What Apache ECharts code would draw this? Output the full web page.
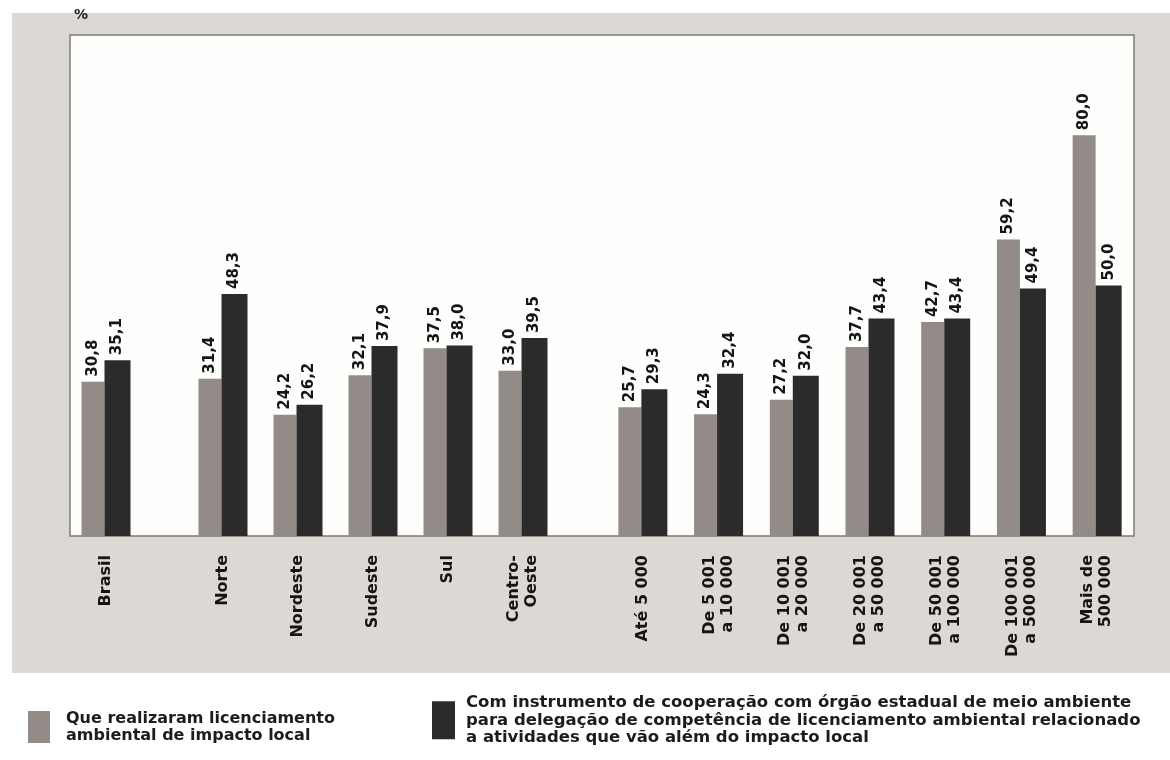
<!DOCTYPE html>
<html>
<head>
<meta charset="utf-8">
<script src="https://cdn.jsdelivr.net/npm/echarts@6/dist/echarts.min.js"></script>
<style>
html,body{margin:0;padding:0;background:#ffffff;}
#chart{width:1170px;height:760px;}
</style>
</head>
<body>
<div id="chart"></div>
<script>
// ---- data ----
const brasilCats = ['Brasil'];
const regionCats = ['Norte', 'Nordeste', 'Sudeste', 'Sul', 'Centro-\nOeste'];
const sizeCats = ['Até 5 000', 'De 5 001\na 10 000', 'De 10 001\na 20 000', 'De 20 001\na 50 000', 'De 50 001\na 100 000', 'De 100 001\na 500 000', 'Mais de\n500 000'];

const licBrasil = [30.8];
const coopBrasil = [35.1];
const licRegion = [31.4, 24.2, 32.1, 37.5, 33.0];
const coopRegion = [48.3, 26.2, 37.9, 38.0, 39.5];
const licSize = [25.7, 24.3, 27.2, 37.7, 42.7, 59.2, 80.0];
const coopSize = [29.3, 32.4, 32.0, 43.4, 43.4, 49.4, 50.0];

const legendLic = 'Que realizaram licenciamento\nambiental de impacto local';
const legendCoop = 'Com instrumento de cooperação com órgão estadual de meio ambiente\npara delegação de competência de licenciamento ambiental relacionado\na atividades que vão além do impacto local';
const unitLabel = '%';

// ---- styles ----
const GREY = '#928b87';
const DARK = '#2b2b2b';
const PANEL = '#dcd8d3';
const FONT = 'DejaVu Sans, sans-serif';

const chart = echarts.init(document.getElementById('chart'));

const plotTop = 35, plotH = 501;
const grids = [
  {left: 70, top: plotTop, width: 1064, height: plotH, show: true, backgroundColor: '#fefefd', borderColor: '#7f7a75', borderWidth: 1.5},
  {left: 70, top: plotTop, width: 72, height: plotH},
  {left: 185.5, top: plotTop, width: 375, height: plotH},
  {left: 605, top: plotTop, width: 530, height: plotH}
];
const catSets = [[''], brasilCats, regionCats, sizeCats];

const xAxes = catSets.map((c, i) => ({
  type: 'category', gridIndex: i, data: c, show: i !== 0,
  axisLine: {show: false}, axisTick: {show: false},
  axisLabel: {interval: 0, rotate: 90, margin: 19, fontFamily: FONT, fontWeight: 'bold', fontSize: 16, color: '#151515', lineHeight: 18}
}));
const yAxes = catSets.map((c, i) => ({
  type: 'value', gridIndex: i, min: 0, max: 100, show: false
}));

const fmt = p => p.value.toFixed(1).replace('.', ',');
const lbl = {show: true, position: 'top', rotate: 90, align: 'left', verticalAlign: 'middle', distance: 5,
  fontFamily: FONT, fontWeight: 'bold', fontSize: 15, color: '#151515', formatter: fmt};

function pair(idx, lic, coop) {
  return [
    {name: 'lic', type: 'bar', xAxisIndex: idx, yAxisIndex: idx, data: lic, barWidth: 23, barGap: '0%',
      itemStyle: {color: GREY}, label: lbl},
    {name: 'coop', type: 'bar', xAxisIndex: idx, yAxisIndex: idx, data: coop, barWidth: 26, barGap: '0%',
      itemStyle: {color: DARK}, label: lbl}
  ];
}

const series = [].concat(pair(1, licBrasil, coopBrasil), pair(2, licRegion, coopRegion), pair(3, licSize, coopSize));

const legText1 = {fontFamily: FONT, fontSize: 16, fontWeight: 'bold', color: '#1c1c1c', lineHeight: 17, padding: [0, 0, 0, 11]};
const legText2 = {fontFamily: FONT, fontSize: 16.5, fontWeight: 'bold', color: '#1c1c1c', lineHeight: 17.5, padding: [0, 0, 0, 6]};

chart.setOption({
  animation: false,
  backgroundColor: '#ffffff',
  graphic: [
    {type: 'rect', z: -100, shape: {x: 12, y: 13, width: 1158, height: 660}, style: {fill: PANEL}, silent: true},
    {type: 'text', left: 74, top: 8, style: {text: unitLabel, font: 'bold 14px ' + FONT, fill: '#1c1c1c'}}
  ],
  grid: grids,
  xAxis: xAxes,
  yAxis: yAxes,
  legend: [
    {data: ['lic'], icon: 'rect', left: 28, top: 710, padding: 0, itemWidth: 22, itemHeight: 32, itemGap: 10, selectedMode: false,
      formatter: () => legendLic, textStyle: legText1},
    {data: ['coop'], icon: 'rect', left: 432, top: 694, padding: 0, itemWidth: 23, itemHeight: 38, itemGap: 10, selectedMode: false,
      formatter: () => legendCoop, textStyle: legText2}
  ],
  series: series
});
</script>
</body>
</html>
